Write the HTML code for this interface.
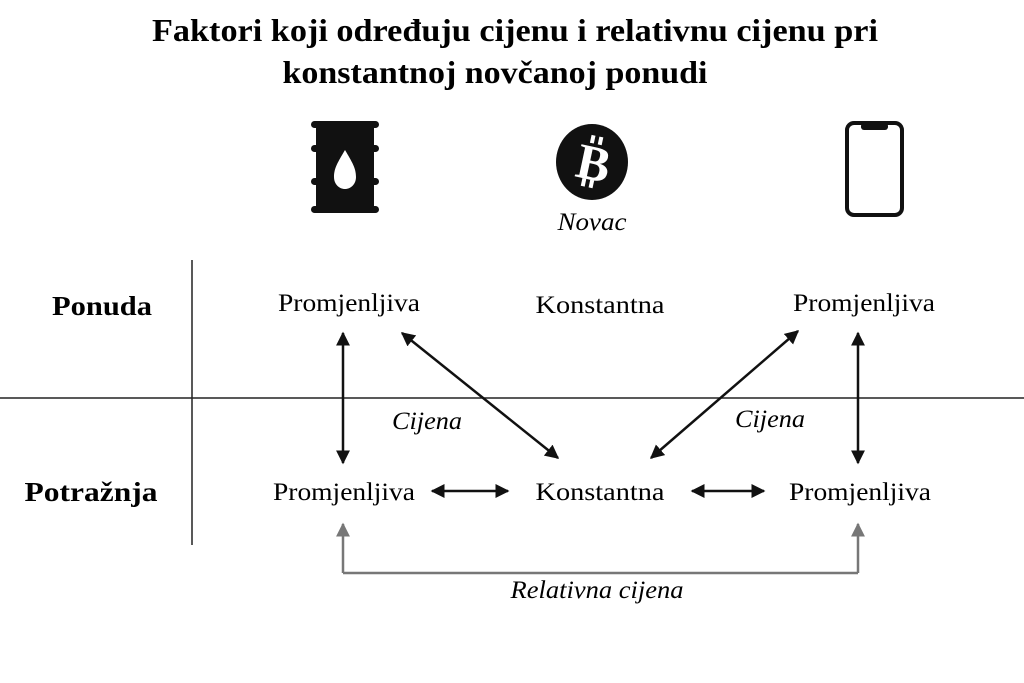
<!DOCTYPE html>
<html><head><meta charset="utf-8"><style>
html,body{margin:0;padding:0;background:#fff;}
svg{display:block;}
text{font-family:"Liberation Serif",serif;}
</style></head><body>
<svg width="1024" height="683" viewBox="0 0 1024 683" xmlns="http://www.w3.org/2000/svg">
<defs>
<marker id="ab" viewBox="0 0 10 10" refX="9" refY="5" markerWidth="14" markerHeight="14" markerUnits="userSpaceOnUse" orient="auto-start-reverse"><path d="M0,0 L10,5 L0,10 z" fill="#111"/></marker>
<marker id="g" viewBox="0 0 10 10" refX="9" refY="5" markerWidth="14" markerHeight="14" markerUnits="userSpaceOnUse" orient="auto"><path d="M0,0 L10,5 L0,10 z" fill="#777"/></marker>
</defs>
<text x="515" y="41" font-size="32" font-weight="bold" text-anchor="middle" textLength="726" lengthAdjust="spacingAndGlyphs">Faktori koji određuju cijenu i relativnu cijenu pri</text>
<text x="495" y="83" font-size="32" font-weight="bold" text-anchor="middle" textLength="425" lengthAdjust="spacingAndGlyphs">konstantnoj novčanoj ponudi</text>
<!-- barrel -->
<g fill="#111">
<rect x="316" y="124" width="58" height="88" rx="3"/>
<rect x="311" y="121" width="68" height="7" rx="3.5"/>
<rect x="311" y="206" width="68" height="7" rx="3.5"/>
<rect x="311" y="145" width="68" height="7" rx="3.5"/>
<rect x="311" y="178" width="68" height="7" rx="3.5"/>
</g>
<path d="M345,150 C338,162 334,168 334,177 C334,184 339,189 345,189 C351,189 356,184 356,177 C356,168 352,162 345,150 z" fill="#fff"/>
<!-- bitcoin -->
<ellipse cx="592" cy="162" rx="36" ry="38" fill="#111"/>
<text x="594" y="180" font-size="50" font-weight="bold" fill="#fff" text-anchor="middle" font-family="Liberation Sans,sans-serif" transform="rotate(12 594 162)">B</text>
<g stroke="#fff" stroke-width="4" transform="rotate(12 594 162)">
<line x1="588" y1="136" x2="588" y2="144"/><line x1="596" y1="136" x2="596" y2="144"/>
<line x1="588" y1="180" x2="588" y2="188"/><line x1="596" y1="180" x2="596" y2="188"/>
</g>
<text x="592" y="230" font-size="25" font-style="italic" text-anchor="middle" textLength="69" lengthAdjust="spacingAndGlyphs">Novac</text>
<!-- phone -->
<rect x="847" y="123" width="55" height="92" rx="7" fill="none" stroke="#111" stroke-width="4"/>
<rect x="861" y="123" width="27" height="7" rx="3" fill="#111"/>
<!-- grid -->
<line x1="192" y1="260" x2="192" y2="545" stroke="#222" stroke-width="1.5"/>
<line x1="0" y1="398" x2="1024" y2="398" stroke="#222" stroke-width="1.5"/>
<text x="102" y="315" font-size="27" font-weight="bold" text-anchor="middle" textLength="100" lengthAdjust="spacingAndGlyphs">Ponuda</text>
<text x="91" y="501" font-size="27" font-weight="bold" text-anchor="middle" textLength="133" lengthAdjust="spacingAndGlyphs">Potražnja</text>
<g font-size="25" text-anchor="middle" lengthAdjust="spacingAndGlyphs">
<text x="349" y="311" textLength="142" lengthAdjust="spacingAndGlyphs">Promjenljiva</text>
<text x="600" y="313" textLength="129" lengthAdjust="spacingAndGlyphs">Konstantna</text>
<text x="864" y="311" textLength="142" lengthAdjust="spacingAndGlyphs">Promjenljiva</text>
<text x="344" y="500" textLength="142" lengthAdjust="spacingAndGlyphs">Promjenljiva</text>
<text x="600" y="500" textLength="129" lengthAdjust="spacingAndGlyphs">Konstantna</text>
<text x="860" y="500" textLength="142" lengthAdjust="spacingAndGlyphs">Promjenljiva</text>
</g>
<g font-size="25" font-style="italic" text-anchor="middle">
<text x="427" y="429" textLength="70" lengthAdjust="spacingAndGlyphs">Cijena</text>
<text x="770" y="427" textLength="70" lengthAdjust="spacingAndGlyphs">Cijena</text>
<text x="597" y="598" textLength="173" lengthAdjust="spacingAndGlyphs">Relativna cijena</text>
</g>
<g stroke="#111" stroke-width="2.5" fill="none">
<line x1="343" y1="333" x2="343" y2="463" marker-start="url(#ab)" marker-end="url(#ab)"/>
<line x1="402" y1="333" x2="558" y2="458" marker-start="url(#ab)" marker-end="url(#ab)"/>
<line x1="798" y1="331" x2="651" y2="458" marker-start="url(#ab)" marker-end="url(#ab)"/>
<line x1="858" y1="333" x2="858" y2="463" marker-start="url(#ab)" marker-end="url(#ab)"/>
<line x1="432" y1="491" x2="508" y2="491" marker-start="url(#ab)" marker-end="url(#ab)"/>
<line x1="692" y1="491" x2="764" y2="491" marker-start="url(#ab)" marker-end="url(#ab)"/>
</g>
<g stroke="#777" stroke-width="2.5" fill="none">
<polyline points="343,573 858,573"/>
<line x1="343" y1="573" x2="343" y2="524" marker-end="url(#g)"/>
<line x1="858" y1="573" x2="858" y2="524" marker-end="url(#g)"/>
</g>
</svg>
</body></html>
